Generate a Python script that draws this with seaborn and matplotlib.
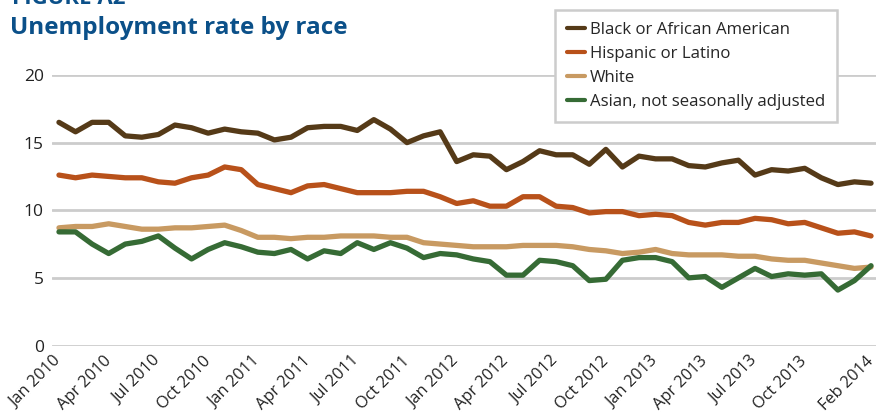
import matplotlib
matplotlib.use("Agg")
import matplotlib.pyplot as plt
import seaborn as sns
import pandas as pd

# ---- data (monthly, Jan 2010 - Feb 2014) ----
black = [16.5, 15.8, 16.5, 16.5, 15.5, 15.4, 15.6, 16.3, 16.1, 15.7,
         16.0, 15.8, 15.7, 15.2, 15.4, 16.1, 16.2, 16.2, 15.9, 16.7,
         16.0, 15.0, 15.5, 15.8, 13.6, 14.1, 14.0, 13.0, 13.6, 14.4,
         14.1, 14.1, 13.4, 14.5, 13.2, 14.0, 13.8, 13.8, 13.3, 13.2,
         13.5, 13.7, 12.6, 13.0, 12.9, 13.1, 12.4, 11.9, 12.1, 12.0]
hispanic = [12.6, 12.4, 12.6, 12.5, 12.4, 12.4, 12.1, 12.0, 12.4, 12.6,
            13.2, 13.0, 11.9, 11.6, 11.3, 11.8, 11.9, 11.6, 11.3, 11.3,
            11.3, 11.4, 11.4, 11.0, 10.5, 10.7, 10.3, 10.3, 11.0, 11.0,
            10.3, 10.2, 9.8, 9.9, 9.9, 9.6, 9.7, 9.6, 9.1, 8.9,
            9.1, 9.1, 9.4, 9.3, 9.0, 9.1, 8.7, 8.3, 8.4, 8.1]
white = [8.7, 8.8, 8.8, 9.0, 8.8, 8.6, 8.6, 8.7, 8.7, 8.8,
         8.9, 8.5, 8.0, 8.0, 7.9, 8.0, 8.0, 8.1, 8.1, 8.1,
         8.0, 8.0, 7.6, 7.5, 7.4, 7.3, 7.3, 7.3, 7.4, 7.4,
         7.4, 7.3, 7.1, 7.0, 6.8, 6.9, 7.1, 6.8, 6.7, 6.7,
         6.7, 6.6, 6.6, 6.4, 6.3, 6.3, 6.1, 5.9, 5.7, 5.8]
asian = [8.4, 8.4, 7.5, 6.8, 7.5, 7.7, 8.1, 7.2, 6.4, 7.1,
         7.6, 7.3, 6.9, 6.8, 7.1, 6.4, 7.0, 6.8, 7.6, 7.1,
         7.6, 7.2, 6.5, 6.8, 6.7, 6.4, 6.2, 5.2, 5.2, 6.3,
         6.2, 5.9, 4.8, 4.9, 6.3, 6.5, 6.5, 6.2, 5.0, 5.1,
         4.3, 5.0, 5.7, 5.1, 5.3, 5.2, 5.3, 4.1, 4.8, 5.9]
series_names = ["Black or African American", "Hispanic or Latino", "White",
                "Asian, not seasonally adjusted"]
tick_idx = [0, 3, 6, 9, 12, 15, 18, 21, 24, 27, 30, 33, 36, 39, 42, 45, 49]
tick_labels = ["Jan 2010", "Apr 2010", "Jul 2010", "Oct 2010",
               "Jan 2011", "Apr 2011", "Jul 2011", "Oct 2011",
               "Jan 2012", "Apr 2012", "Jul 2012", "Oct 2012",
               "Jan 2013", "Apr 2013", "Jul 2013", "Oct 2013", "Feb 2014"]
y_ticks = [0, 5, 10, 15, 20]

colors = ["#553a18", "#b8511a", "#c89a62", "#366b35"]

rows = []
for name, vals in zip(series_names, [black, hispanic, white, asian]):
    for i, v in enumerate(vals):
        rows.append({"month": i, "rate": v, "series": name})
df = pd.DataFrame(rows)

sns.set_theme(style="white")
plt.rcParams["font.family"] = ["Open Sans", "DejaVu Sans"]

fig = plt.figure(figsize=(8.78, 4.13), dpi=100)
ax = fig.add_axes([52 / 878, 1 - 345.5 / 413, (876 - 52) / 878, (345.5 - 75) / 413])

sns.lineplot(data=df, x="month", y="rate", hue="series", hue_order=series_names,
             palette=colors, linewidth=3.8, ax=ax, legend=True)

ax.set_xlim(-0.42, 49.3)
ax.set_ylim(0, 20)
ax.set_yticks(y_ticks)
ax.set_yticklabels([str(t) for t in y_ticks], fontsize=12.5, color="#222222")
ax.set_xticks(tick_idx)
ax.set_xticklabels(tick_labels, rotation=45, ha="right", va="center",
                   rotation_mode="anchor", fontsize=11.8, color="#222222")
ax.tick_params(axis="both", length=0)
ax.tick_params(axis="y", pad=6)
ax.tick_params(axis="x", pad=9.5)
ax.grid(axis="y", color="#cccccc", linewidth=2)
ax.set_axisbelow(True)
for s in ax.spines.values():
    s.set_visible(False)
ax.set_xlabel("")
ax.set_ylabel("")

leg = ax.legend(loc="upper left", bbox_to_anchor=((555 - 52) / 824, 1 + (75 - 10) / 270.5),
                frameon=True, fancybox=False, fontsize=12.1, handlelength=1.05,
                handletextpad=0.3, labelspacing=0.47, borderpad=0.72,
                borderaxespad=0, edgecolor="#cccccc", framealpha=1)
leg.get_frame().set_linewidth(1.8)
for line in leg.get_lines():
    line.set_linewidth(3)

fig.text(12 / 878, 1 - 4 / 413, "FIGURE A2", fontsize=16, fontweight="bold",
         color="#0b5089", va="baseline", ha="left")
fig.text(10 / 878, 1 - 34 / 413, "Unemployment rate by race", fontsize=17.5,
         fontweight="bold", color="#0b5089", va="baseline", ha="left")

fig.savefig("out.png", dpi=100)
